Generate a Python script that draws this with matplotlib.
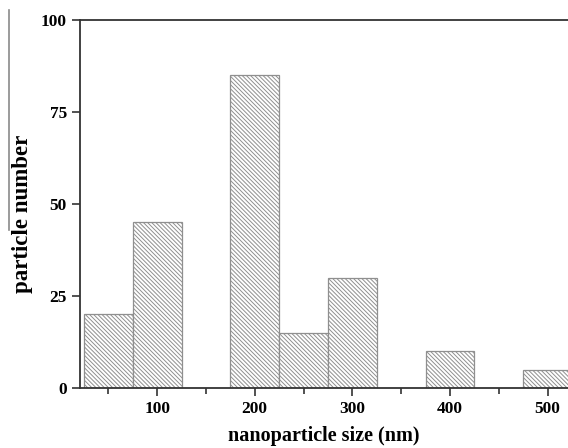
import numpy as np
import matplotlib.pyplot as plt
from matplotlib.lines import Line2D
from matplotlib.ticker import MultipleLocator

# bin centres (nm) and counts
size_nm = [50, 100, 200, 250, 300, 400, 500]
counts = [20, 45, 85, 15, 30, 10, 5]
bin_width = 50

plt.rcParams['font.family'] = ['Liberation Serif', 'DejaVu Serif']
plt.rcParams['hatch.color'] = '#8c8c8c'
plt.rcParams['hatch.linewidth'] = 0.7

fig = plt.figure(figsize=(5.68, 4.48), dpi=100)
ax = fig.add_axes([80/568, 1-388/448, 1-80/568, (388-20)/448])

ax.bar(size_nm, counts, width=bin_width, facecolor='white', edgecolor='#8f8f8f',
       hatch='\\' * 8, linewidth=0.9)

ax.set_xlim(21, 521)
ax.set_ylim(0, 100)
ax.xaxis.set_major_locator(MultipleLocator(100))
ax.xaxis.set_minor_locator(MultipleLocator(50))
ax.yaxis.set_major_locator(MultipleLocator(25))
ax.tick_params(axis='both', which='major', direction='out', length=6, width=1.2,
               labelsize=12.5, color='#333333')
ax.tick_params(axis='x', which='minor', direction='out', length=4, width=1.2,
               color='#333333')
for lab in ax.get_xticklabels() + ax.get_yticklabels():
    lab.set_fontweight('bold')
ax.spines['right'].set_visible(False)
for s in ['left', 'bottom', 'top']:
    ax.spines[s].set_linewidth(1.3)
    ax.spines[s].set_color('#333333')

ax.set_xlabel('nanoparticle size (nm)', fontsize=14.5, fontweight='bold', labelpad=6)
ax.set_ylabel('particle number', fontsize=16.5, fontweight='bold')
ax.yaxis.set_label_coords(-0.096, 0.473)

# thin grey line at the left edge of the original scan
fig.add_artist(Line2D([9/568, 9/568], [1-10/448, 1-230/448], color='#8a8a8a', lw=1.2))

fig.savefig('out.png', dpi=100)
